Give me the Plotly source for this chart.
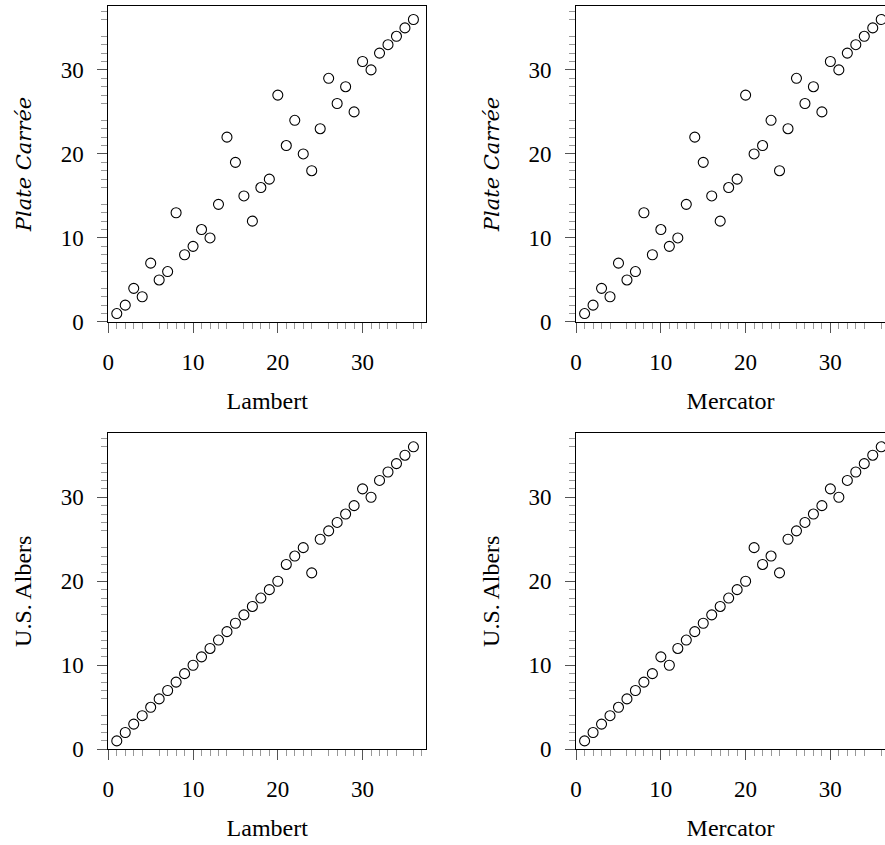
import plotly.graph_objects as go

rank = list(range(1, 37))
plate_vs_lambert = [1, 2, 4, 3, 7, 5, 6, 13, 8, 9, 11, 10, 14, 22, 19, 15, 12, 16,
                    17, 27, 21, 24, 20, 18, 23, 29, 26, 28, 25, 31, 30, 32, 33, 34, 35, 36]
plate_vs_mercator = [1, 2, 4, 3, 7, 5, 6, 13, 8, 11, 9, 10, 14, 22, 19, 15, 12, 16,
                     17, 27, 20, 21, 24, 18, 23, 29, 26, 28, 25, 31, 30, 32, 33, 34, 35, 36]
albers_vs_lambert = [1, 2, 3, 4, 5, 6, 7, 8, 9, 10, 11, 12, 13, 14, 15, 16, 17, 18,
                     19, 20, 22, 23, 24, 21, 25, 26, 27, 28, 29, 31, 30, 32, 33, 34, 35, 36]
albers_vs_mercator = [1, 2, 3, 4, 5, 6, 7, 8, 9, 11, 10, 12, 13, 14, 15, 16, 17, 18,
                      19, 20, 24, 22, 23, 21, 25, 26, 27, 28, 29, 31, 30, 32, 33, 34, 35, 36]
major_ticks = [0, 10, 20, 30]
minor_ticks = [v for v in range(1, 38) if v % 5 != 0]

ITALIC = "<span style='font-family:DejaVu Serif;font-size:21px'><i>Plate Carrée</i></span>"
panels = [
    (rank, plate_vs_lambert, "Lambert", ITALIC),
    (rank, plate_vs_mercator, "Mercator", ITALIC),
    (rank, albers_vs_lambert, "Lambert", "U.S. Albers"),
    (rank, albers_vs_mercator, "Mercator", "U.S. Albers"),
]

W, H = 885, 845
FONT = "Liberation Serif"
unit = 320 / 37.5
# pixel boxes (left, right, top, bottom)
boxes = [
    (103, 423, 6, 327),
    (574, 885, 6, 327),
    (103, 423, 440, 761),
    (574, 885, 440, 761),
]

fig = go.Figure()
layout = dict(
    width=W, height=H,
    margin=dict(l=0, r=0, t=0, b=0),
    paper_bgcolor="white", plot_bgcolor="white",
    showlegend=False,
    font=dict(family=FONT, size=23, color="black"),
)
for i, ((xs, ys, xt, yt), (l, r, t, b)) in enumerate(zip(panels, boxes)):
    n = "" if i == 0 else str(i + 1)
    fig.add_trace(go.Scatter(
        x=xs, y=ys, mode="markers",
        marker=dict(symbol="circle-open", size=10, color="black",
                    line=dict(width=1.1, color="black")),
        xaxis="x" + n, yaxis="y" + n,
    ))
    xmax = (r - l) / unit
    ymax = (b - t) / unit
    common = dict(
        showgrid=False, zeroline=False, showline=True, linecolor="black",
        linewidth=1, ticks="outside", ticklen=10, tickwidth=1, tickcolor="#555",
        tickmode="array", tickvals=major_ticks, ticklabelstandoff=9,
        tickfont=dict(family=FONT, size=23, color="black"),
        minor=dict(tickmode="array", tickvals=minor_ticks, ticks="outside",
                   ticklen=6, tickwidth=1, tickcolor="#999"),
    )
    layout["xaxis" + n] = dict(
        common, domain=[l / W, r / W], range=[0, xmax], anchor="y" + n,
        mirror=True,
        title=dict(text=xt, font=dict(family=FONT, size=24), standoff=18),
    )
    layout["yaxis" + n] = dict(
        common, domain=[1 - b / H, 1 - t / H], range=[0, ymax], anchor="x" + n,
        mirror=(r < W),
        title=dict(text=yt, font=dict(family=FONT, size=24), standoff=22),
    )
fig.update_layout(**layout)
fig.write_html(
    "out.html",
    config={"displayModeBar": False},
    post_script="document.body.style.margin='0';document.body.style.overflow='hidden';",
)
